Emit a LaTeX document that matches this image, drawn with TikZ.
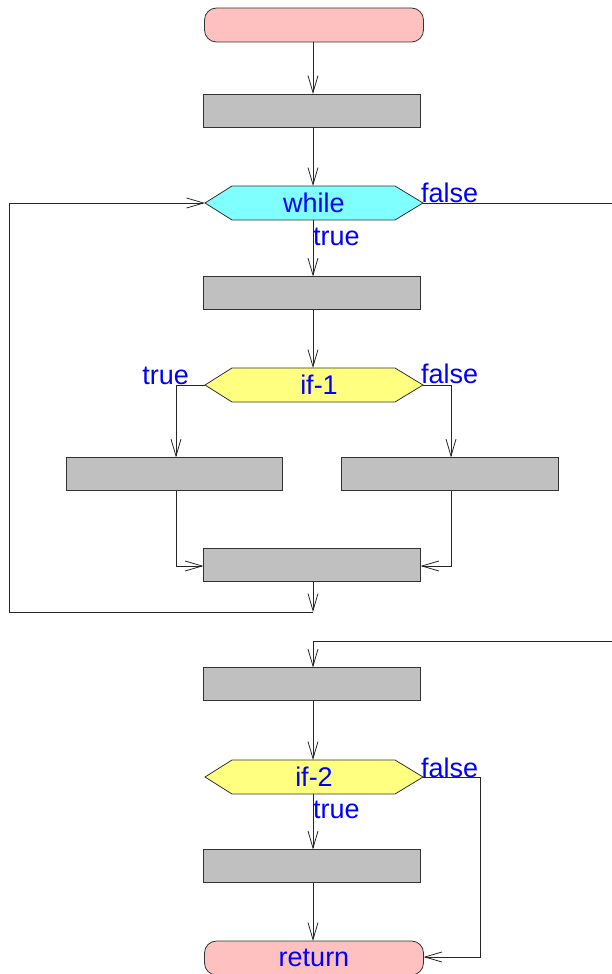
\documentclass[tikz,border=0pt]{standalone}
\usepackage{fontspec}
\setmainfont{Liberation Sans}
\usetikzlibrary{arrows.meta,backgrounds}
\definecolor{pinkfill}{HTML}{FFC0C0}
\definecolor{boxfill}{HTML}{C0C0C0}
\definecolor{cyanfill}{HTML}{80FFFF}
\definecolor{yellowfill}{HTML}{FFFF80}
\definecolor{lbl}{HTML}{0000FF}
\definecolor{edge}{HTML}{333333}
\tikzset{
  every node/.style={font=\fontsize{27}{30}\selectfont, text=lbl, inner sep=0pt, outer sep=0pt},
  term/.style={draw=edge, line width=0.8pt, fill=pinkfill, rounded corners=12pt, minimum width=219pt, minimum height=34pt},
  plainbox/.style={draw=edge, line width=0.8pt, fill=boxfill, minimum width=217pt, minimum height=33pt},
  hexnode/.style={minimum width=218pt, minimum height=34pt},
  hexshape/.style={draw=edge, line width=0.8pt},
  conn/.style={draw=black!85, line width=0.8pt},
  arr/.style={conn, -{Straight Barb[length=17pt,width=10pt]}},
}
\begin{document}
\begin{tikzpicture}[x=1pt,y=-1pt]
\useasboundingbox (0,0) rectangle (611,974);
% nodes
\node[term] (start) at (314,25) {};
\node[plainbox] (b1) at (312,110.5) {};
\node[hexnode] (while) at (314,203) {while};
\node[plainbox] (b2) at (312,293) {};
\node[hexnode] (if1) at (314,385) {\hspace*{10pt}if-1};
\node[plainbox, minimum width=216pt] (bl) at (174,474) {};
\node[plainbox, minimum width=217pt] (br) at (449.5,474) {};
\node[plainbox] (bm) at (312,565) {};
\node[plainbox] (b4) at (312,684) {};
\node[hexnode] (if2) at (314,777) {if-2};
\node[plainbox] (b5) at (312,866) {};
\node[term] (ret) at (314,958) {return};
% hexagon outlines
\begin{scope}[on background layer]
\foreach \n/\c in {while/cyanfill, if1/yellowfill, if2/yellowfill}{
  \draw[hexshape, fill=\c] (\n.west) -- ([xshift=27pt]\n.north west) -- ([xshift=-28pt]\n.north east) -- (\n.east) -- ([xshift=-28pt]\n.south east) -- ([xshift=27pt]\n.south west) -- cycle;
}
\end{scope}
% labels
\node[anchor=base west] (wf) at (421,202) {false};
\node[anchor=base west] (wt) at (313,245) {true};
\node[anchor=base east] (i1t) at (189,384) {true};
\node[anchor=base west] (i1f) at (421,383) {false};
\node[anchor=base west] (i2f) at (421,777) {false};
\node[anchor=base west] (i2t) at (313,818) {true};
% helper coordinates
\coordinate (j1) at (313,612);
\coordinate (c1) at (9,612);
\coordinate (c2) at (9,203);
\coordinate (r1) at (612,203);
\coordinate (r2) at (612,641);
\coordinate (j2) at (313,641);
\coordinate (l1) at (176,385);
\coordinate (rr1) at (451,385);
\coordinate (l2) at (176,566);
\coordinate (rr2) at (451,566);
\coordinate (f1) at (480,777);
\coordinate (f2) at (480,957);
\coordinate (t1) at (313,42);
\coordinate (t2) at (313,186);
\coordinate (t3) at (313,220);
\coordinate (t4) at (313,368);
\coordinate (t5) at (313,760);
\coordinate (t6) at (313,794);
\coordinate (t7) at (313,941);
% connectors
\draw[arr] (t1) -- (t1 |- b1.north);
\draw[arr] (t1 |- b1.south) -- (t2);
\draw[arr] (t3) -- (t3 |- b2.north);
\draw[arr] (t3 |- b2.south) -- (t4);
\draw[arr] (if1.west) -- (l1) -- (l1 |- bl.north);
\draw[arr] (if1.east) -- (rr1) -- (rr1 |- br.north);
\draw[arr] (l1 |- bl.south) -- (l2) -- (bm.west |- l2);
\draw[arr] (rr1 |- br.south) -- (rr2) -- (bm.east |- rr2);
\draw[arr] (t1 |- bm.south) -- (j1);
\draw[arr] (j1) -- (c1) -- (c2) -- (while.west);
\draw[arr] (while.east) -- (r1) -- (r2) -- (j2) -- (j2 |- b4.north);
\draw[arr] (t1 |- b4.south) -- (t5);
\draw[arr] (t6) -- (t6 |- b5.north);
\draw[arr] (t1 |- b5.south) -- (t7);
\draw[arr] (if2.east) -- (f1) -- (f2) -- (ret.east |- f2);
\end{tikzpicture}
\end{document}
